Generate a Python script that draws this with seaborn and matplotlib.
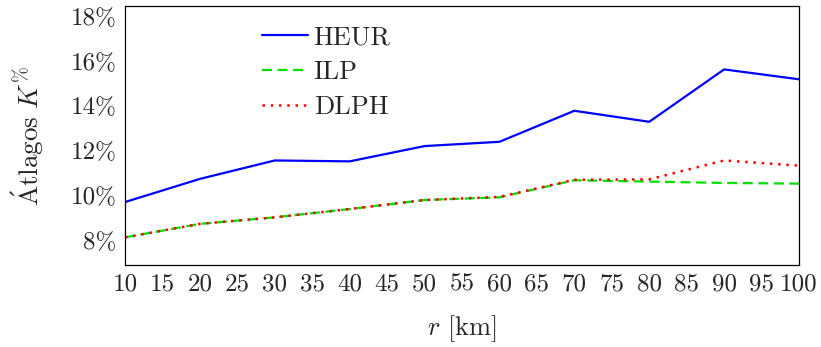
import matplotlib
matplotlib.use("Agg")
import matplotlib.pyplot as plt
import seaborn as sns
import pandas as pd

# adatok (leolvasva az ábráról)
r_km = [10, 20, 30, 40, 50, 60, 70, 80, 90, 100]
heur = [9.73, 10.76, 11.58, 11.54, 12.22, 12.41, 13.79, 13.30, 15.63, 15.19]
ilp = [8.16, 8.76, 9.05, 9.42, 9.82, 9.94, 10.70, 10.64, 10.58, 10.55]
dlph = [8.16, 8.76, 9.05, 9.42, 9.82, 9.96, 10.72, 10.74, 11.58, 11.35]
xticks = list(range(10, 101, 5))
yticks = [8, 10, 12, 14, 16, 18]

sns.set_style("white")
plt.rcParams['font.family'] = ['cmr10', 'DejaVu Serif']
plt.rcParams['mathtext.fontset'] = 'cm'
plt.rcParams['axes.formatter.use_mathtext'] = True
plt.rcParams['font.size'] = 18

fig = plt.figure(figsize=(8.21, 3.47), dpi=100)
ax = fig.add_axes([0.1523, 0.2363, 0.8209, 0.7464])

sns.lineplot(x=r_km, y=heur, ax=ax, color='#0000ff', lw=1.6, label='HEUR')
sns.lineplot(x=r_km, y=ilp, ax=ax, color='#00e000', lw=1.6, ls=(0, (4.5, 2.5)), label='ILP')
sns.lineplot(x=r_km, y=dlph, ax=ax, color='#ff0000', lw=1.8, ls=(0, (1, 2.3)), label='DLPH')

ax.set_xlim(10, 100)
ax.set_ylim(6.93, 18.45)
ax.set_xticks(xticks)
ax.set_xticklabels([str(v) for v in xticks])
ax.set_yticks(yticks)
ax.set_yticklabels([f'{v}%' for v in yticks])
ax.tick_params(direction='in', length=4, color='#999999', width=0.8, labelsize=18, pad=6)

for s in ax.spines.values():
    s.set_color('black')
    s.set_linewidth(0.9)

ax.set_xlabel(r'$r$ [km]', fontsize=19, labelpad=13)
ax.set_ylabel(r'$\acute{\mathrm{A}}\mathrm{tlagos}\ K^{\%}$', fontsize=19.5, labelpad=18)

ax.legend(loc='upper left', bbox_to_anchor=(0.18, 0.985), frameon=False,
          fontsize=19, handlelength=1.75, handletextpad=0.2, labelspacing=0.42,
          borderaxespad=0.2)

fig.savefig('out.png', dpi=100)
